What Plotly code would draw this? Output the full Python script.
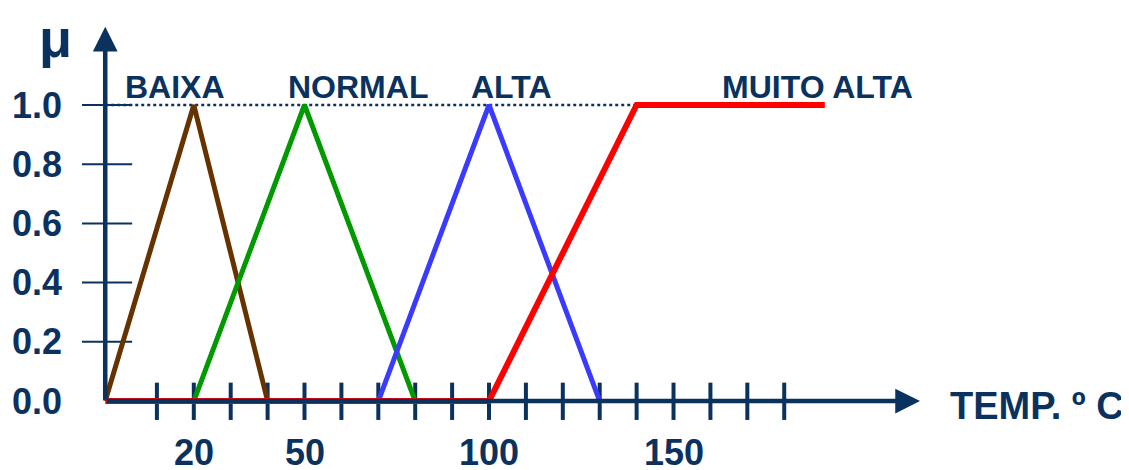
import plotly.graph_objects as go

# membership functions (x = temperature, y = mu)
baixa_x = [-4, 20, 40]
baixa_y = [0, 1, 0]
normal_x = [20, 50, 80]
normal_y = [0, 1, 0]
alta_x = [70, 100, 130]
alta_y = [0, 1, 0]
muito_x = [-4, 100, 140, 191]
muito_y = [0, 0, 1, 1]

x_ticks = list(range(10, 190, 10))
x_tick_labels = {20: "20", 50: "50", 100: "100", 150: "150"}
y_ticks = [0.0, 0.2, 0.4, 0.6, 0.8, 1.0]

set_names = ["BAIXA", "NORMAL", "ALTA", "MUITO ALTA"]
set_label_x = [15, 64.5, 106, 189]

NAVY = "#0b325f"
FONT = "Liberation Sans"
x0 = -4  # where the axes cross

fig = go.Figure()

# x tick marks
tx, ty = [], []
for t in x_ticks:
    tx += [t, t, None]
    ty += [0.062, -0.064, None]
fig.add_trace(go.Scatter(x=tx, y=ty, mode="lines", line=dict(color=NAVY, width=4),
                         hoverinfo="skip", showlegend=False))

# y tick marks
yx, yy = [], []
for t in y_ticks[1:]:
    yx += [-10.3, 3.3, None]
    yy += [t, t, None]
fig.add_trace(go.Scatter(x=yx, y=yy, mode="lines", line=dict(color=NAVY, width=2),
                         hoverinfo="skip", showlegend=False))

# dotted line at mu = 1
fig.add_trace(go.Scatter(x=[x0, 140], y=[1, 1], mode="lines",
                         line=dict(color=NAVY, width=2.5, dash="dot"),
                         hoverinfo="skip", showlegend=False))

for xs, ys, col in [(baixa_x, baixa_y, "#663300"), (normal_x, normal_y, "#009900"),
                    (alta_x, alta_y, "#3b3bff")]:
    fig.add_trace(go.Scatter(x=xs, y=ys, mode="lines", line=dict(color=col, width=5),
                             hoverinfo="skip", showlegend=False))

# axes with arrows
fig.add_annotation(x=x0, y=1.264, ax=x0, ay=0, xref="x", yref="y", axref="x", ayref="y",
                   showarrow=True, arrowhead=2, arrowsize=1.1, arrowwidth=4.5,
                   arrowcolor=NAVY, text="")
fig.add_annotation(x=216.8, y=0, ax=x0, ay=0, xref="x", yref="y", axref="x", ayref="y",
                   showarrow=True, arrowhead=2, arrowsize=1.1, arrowwidth=4.5,
                   arrowcolor=NAVY, text="")

# red on top of the x axis line
fig.add_trace(go.Scatter(x=muito_x, y=muito_y, mode="lines",
                         line=dict(color="#ff0000", width=6),
                         hoverinfo="skip", showlegend=False))

for t in y_ticks:
    fig.add_annotation(x=-15.2, y=t, text=f"{t:.1f}", showarrow=False, xanchor="right",
                       font=dict(family=FONT, size=36, color=NAVY, weight="bold"))
for t, lab in x_tick_labels.items():
    fig.add_annotation(x=t, y=-0.175, text=lab, showarrow=False,
                       font=dict(family=FONT, size=36, color=NAVY, weight="bold"))
for name, lx in zip(set_names, set_label_x):
    fig.add_annotation(x=lx, y=1.062, text=name, showarrow=False,
                       font=dict(family=FONT, size=32, color=NAVY, weight="bold"))

fig.add_annotation(x=224.5, y=-0.017, text="TEMP. º C", showarrow=False, xanchor="left",
                   font=dict(family=FONT, size=38, color=NAVY, weight="bold"))
fig.add_annotation(x=-17.6, y=1.225, text="μ", showarrow=False,
                   font=dict(family=FONT, size=54, color=NAVY, weight="bold"))

fig.update_layout(
    width=1129, height=470,
    margin=dict(l=0, r=0, t=0, b=0),
    plot_bgcolor="white", paper_bgcolor="white",
    xaxis=dict(range=[-30.35, 275.6], visible=False, fixedrange=True),
    yaxis=dict(range=[-0.2601, 1.3277], visible=False, fixedrange=True),
)

fig.write_html("out.html")
